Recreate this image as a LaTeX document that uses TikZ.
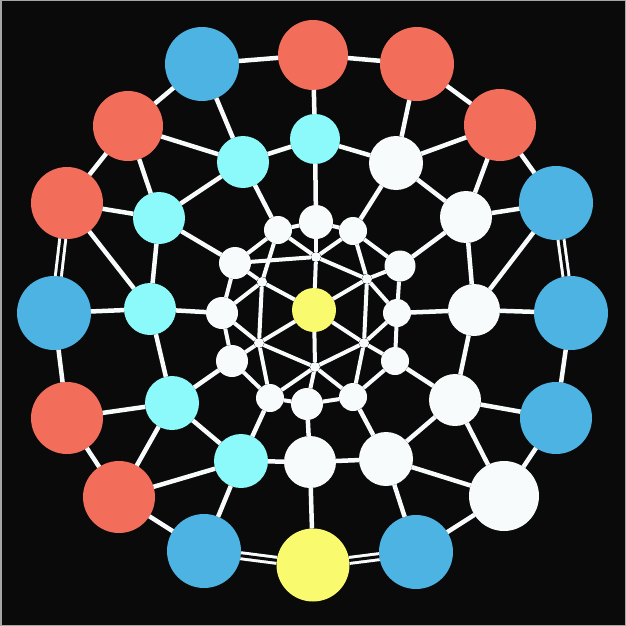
\documentclass[tikz,border=0pt]{standalone}
\definecolor{bgc}{RGB}{10,10,10}
\definecolor{cblue}{RGB}{77,179,227}
\definecolor{cred}{RGB}{242,110,90}
\definecolor{ccyan}{RGB}{140,250,250}
\definecolor{cyel}{RGB}{250,250,110}
\definecolor{cwhite}{RGB}{248,251,252}
\tikzset{
  nd/.style={circle, inner sep=0pt, outer sep=0pt, draw=none},
  bl/.style={nd, fill=cblue},
  rd/.style={nd, fill=cred},
  cy/.style={nd, fill=ccyan},
  ye/.style={nd, fill=cyel},
  wh/.style={nd, fill=cwhite},
  ln/.style={draw=cwhite, line width=4.5pt},
  lni/.style={draw=cwhite, line width=4pt},
  dbl/.style={draw=cwhite, line width=3pt, double=bgc, double distance=3pt}
}
\begin{document}
\begin{tikzpicture}[x=1pt,y=-1pt]
\useasboundingbox (0,0) rectangle (626,626);
\fill[bgc] (0,0) rectangle (626,626);
\draw[gray!70, line width=1.5pt] (0.75,0.75) rectangle (625.25,625.25);
% outer ring
\node[bl, minimum size=74pt] (o1) at (202,64) {};
\node[rd, minimum size=70pt] (o2) at (313,55) {};
\node[rd, minimum size=74pt] (o3) at (417,64) {};
\node[rd, minimum size=72pt] (o4) at (500,125) {};
\node[bl, minimum size=74pt] (o5) at (556,203) {};
\node[bl, minimum size=74pt] (o6) at (571,313) {};
\node[bl, minimum size=72pt] (o7) at (556,418) {};
\node[wh, minimum size=70pt] (o8) at (504,496) {};
\node[bl, minimum size=74pt] (o9) at (416,552) {};
\node[ye, minimum size=73pt] (o10) at (313,565) {};
\node[bl, minimum size=74pt] (o11) at (204,551) {};
\node[rd, minimum size=72pt] (o12) at (119,497) {};
\node[rd, minimum size=72pt] (o13) at (67,418) {};
\node[bl, minimum size=74pt] (o14) at (54,313) {};
\node[rd, minimum size=72pt] (o15) at (67,203) {};
\node[rd, minimum size=70pt] (o16) at (128,126) {};
% middle ring
\node[cy, minimum size=50pt] (m1) at (315,139) {};
\node[wh, minimum size=54pt] (m2) at (396,163) {};
\node[wh, minimum size=52pt] (m3) at (466,217) {};
\node[wh, minimum size=52pt] (m4) at (474,310) {};
\node[wh, minimum size=52pt] (m5) at (455,400) {};
\node[wh, minimum size=54pt] (m6) at (386,459) {};
\node[wh, minimum size=52pt] (m7) at (310,462) {};
\node[cy, minimum size=54pt] (m8) at (241,461) {};
\node[cy, minimum size=54pt] (m9) at (172,403) {};
\node[cy, minimum size=52pt] (m10) at (150,309) {};
\node[cy, minimum size=52pt] (m11) at (159,218) {};
\node[cy, minimum size=52pt] (m12) at (243,162) {};
% inner ring
\node[wh, minimum size=34pt] (i1) at (316,222) {};
\node[wh, minimum size=28pt] (i2) at (353,231) {};
\node[wh, minimum size=31pt] (i3) at (400,266) {};
\node[wh, minimum size=28pt] (i4) at (397,313) {};
\node[wh, minimum size=28pt] (i5) at (395,361) {};
\node[wh, minimum size=28pt] (i6) at (353,397) {};
\node[wh, minimum size=32pt] (i7) at (307,404) {};
\node[wh, minimum size=28pt] (i8) at (270,398) {};
\node[wh, minimum size=32pt] (i9) at (232,361) {};
\node[wh, minimum size=32pt] (i10) at (222,313) {};
\node[wh, minimum size=32pt] (i11) at (235,263) {};
\node[wh, minimum size=28pt] (i12) at (278,230) {};
% small nodes and centre
\node[wh, minimum size=10pt] (s1) at (316,257) {};
\node[wh, minimum size=10pt] (s2) at (367,279) {};
\node[wh, minimum size=10pt] (s3) at (364,343) {};
\node[wh, minimum size=10pt] (s4) at (315,367) {};
\node[wh, minimum size=10pt] (s5) at (259,343) {};
\node[wh, minimum size=10pt] (s6) at (262,282) {};
\node[ye, minimum size=44pt] (c) at (314,310) {};
% outer ring edges
\foreach \a/\b in {o1/o2,o2/o3,o3/o4,o4/o5,o6/o7,o7/o8,o8/o9,o11/o12,o12/o13,o13/o14,o15/o16,o16/o1}
  \draw[ln] (\a) -- (\b);
\foreach \a/\b in {o5/o6,o9/o10,o10/o11,o14/o15}
  \draw[dbl] (\a) -- (\b);
% middle ring edges
\foreach \a/\b in {m1/m2,m2/m3,m3/m4,m4/m5,m5/m6,m6/m7,m7/m8,m8/m9,m9/m10,m10/m11,m11/m12,m12/m1}
  \draw[ln] (\a) -- (\b);
% outer-middle
\foreach \a/\b in {o1/m12,o16/m12,o16/m11,o15/m11,o15/m10,o14/m10,o2/m1,o3/m2,o4/m2,o4/m3,o5/m3,o5/m4,o6/m4,o7/m5,o8/m5,o8/m6,o9/m6,o10/m7,o11/m8,o12/m8,o12/m9,o13/m9}
  \draw[ln] (\a) -- (\b);
% middle-inner
\foreach \k in {1,...,12}
  \draw[ln] (m\k) -- (i\k);
% inner ring
\foreach \a/\b in {i1/i2,i2/i3,i3/i4,i4/i5,i5/i6,i6/i7,i7/i8,i8/i9,i9/i10,i10/i11,i11/i12,i12/i1}
  \draw[lni] (\a) -- (\b);
% small nodes
\foreach \k in {1,...,6}
  \draw[lni] (c) -- (s\k);
\foreach \a/\b in {s1/s2,s2/s3,s3/s4,s4/s5,s5/s6,
  s1/i12,s1/i1,s1/i2,s1/i11,
  s2/i2,s2/i3,s2/i4,
  s3/i4,s3/i5,s3/i6,
  s4/i6,s4/i7,s4/i8,
  s5/i8,s5/i9,s5/i10,
  s6/i10,s6/i11,s6/i12}
  \draw[lni] (\a) -- (\b);
\end{tikzpicture}
\end{document}
